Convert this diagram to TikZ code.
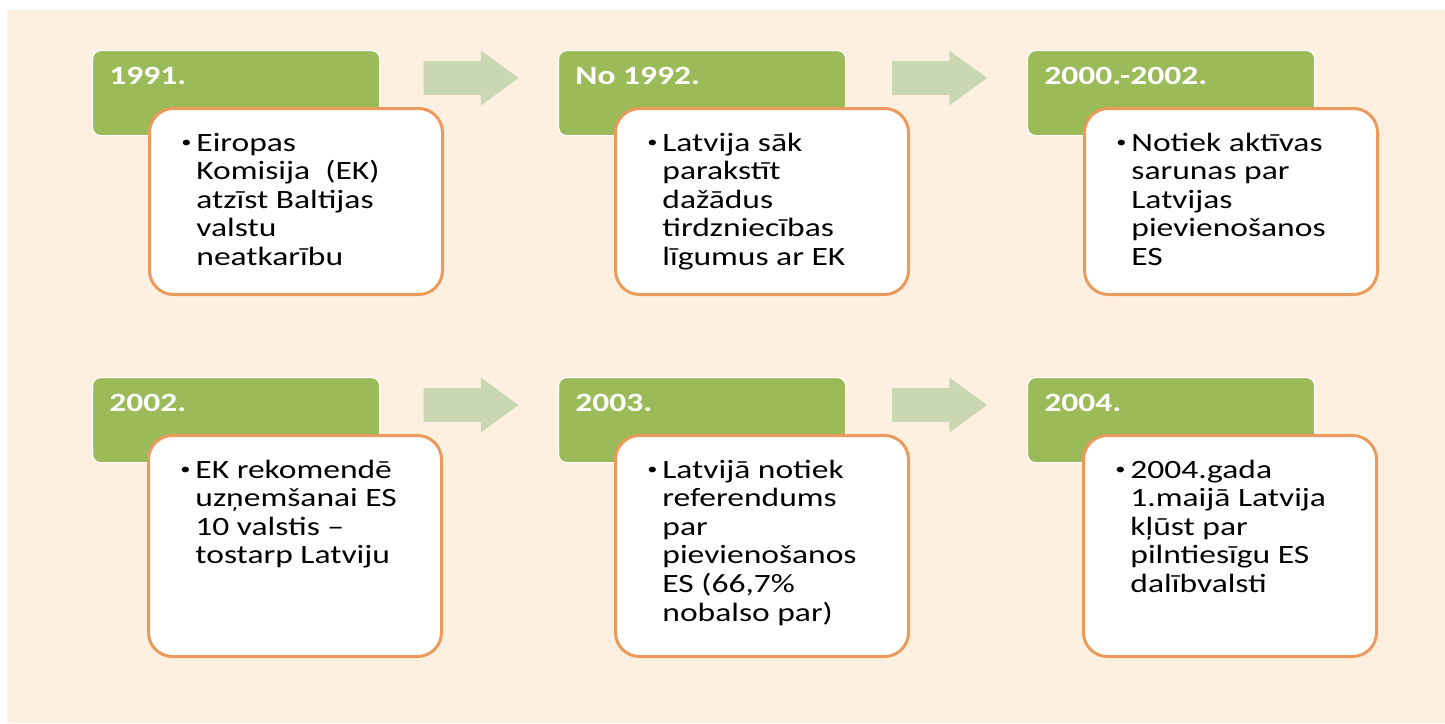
\documentclass[tikz,border=0pt]{standalone}
\usepackage{fontspec}
\setmainfont{Carlito}[FakeStretch=1.27]
\usetikzlibrary{shapes.arrows}
\definecolor{cream}{HTML}{FDF0E1}
\definecolor{yeargreen}{HTML}{9BBB59}
\definecolor{arrowgreen}{HTML}{C9D8B2}
\definecolor{noteorange}{HTML}{EC9A5B}
\newcommand{\bl}{\makebox[7.5pt][l]{\raisebox{2pt}{\fontsize{8}{8}\selectfont\textbullet}}}
\newcommand{\ind}{\hspace*{7.5pt}}

\begin{document}
\begin{tikzpicture}[x=0.5pt, y=-0.5pt,
	yearbox/.style={draw=white, line width=0.6pt, fill=yeargreen, rounded corners=4pt, minimum width=143.5pt, minimum height=42.5pt, anchor=north west, inner sep=0pt},
	notebox/.style={draw=noteorange, line width=1.5pt, fill=white, rounded corners=12pt, minimum width=146.5pt, anchor=north west, inner sep=0pt},
	yeartext/.style={anchor=base west, inner sep=0pt, text=white, font=\fontsize{13.2}{14.3}\selectfont\bfseries},
	% base west = baseline of the last line
	notetext/.style={anchor=base west, inner sep=0pt, align=left, font=\fontsize{13.2}{14.3}\selectfont},
	blockarrow/.style={single arrow, fill=arrowgreen, minimum width=27pt, minimum height=47.5pt, single arrow head extend=5.25pt, single arrow tip angle=72, inner xsep=0pt, inner ysep=8.25pt}]
	\useasboundingbox (0,0) rectangle (1445,723);
	\fill[white] (0,0) rectangle (1445,723);
	\fill[cream] (7,10) rectangle (1445,723);

	% top row
	\node[yearbox] (g1) at (92,50) {};
	\node[yearbox] (g2) at (558,50) {};
	\node[yearbox] (g3) at (1027,50) {};
	\node[notebox, minimum height=93pt] (w1) at (148,107) {};
	\node[notebox, minimum height=93pt] (w2) at (614,107) {};
	\node[notebox, minimum height=93pt] (w3) at (1083,107) {};
	\node[blockarrow] (a1) at (459.5,78) {};
	\node[blockarrow] (a2) at (928,78) {};
	\node[yeartext] (y1) at (109,84) {1991.};
	\node[yeartext] (y2) at (575,84) {No 1992.};
	\node[yeartext] (y3) at (1044,84) {2000.-2002.};
	\node[notetext] (t1) at (181,265.4) {\bl Eiropas\\\ind Komisija\ \ (EK)\\\ind atzīst Baltijas\\\ind valstu\\\ind neatkarību};
	\node[notetext] (t2) at (647,265.4) {\bl Latvija sāk\\\ind parakstīt\\\ind dažādus\\\ind tirdzniecības\\\ind līgumus ar EK};
	\node[notetext] (t3) at (1116,265.4) {\bl Notiek aktīvas\\\ind sarunas par\\\ind Latvijas\\\ind pievienošanos\\\ind ES};

	% bottom row
	\node[yearbox] (g4) at (92,377) {};
	\node[yearbox] (g5) at (558,377) {};
	\node[yearbox] (g6) at (1027,377) {};
	\node[notebox, minimum height=110.5pt] (w4) at (147,434) {};
	\node[notebox, minimum height=110.5pt] (w5) at (614,434) {};
	\node[notebox, minimum height=110.5pt] (w6) at (1082,434) {};
	\node[blockarrow] (a3) at (459.5,405) {};
	\node[blockarrow] (a4) at (928,405) {};
	\node[yeartext] (y4) at (109,411) {2002.};
	\node[yeartext] (y5) at (575,411) {2003.};
	\node[yeartext] (y6) at (1044,411) {2004.};
	\node[notetext] (t4) at (180,563.8) {\bl EK rekomendē\\\ind uzņemšanai ES\\\ind 10 valstis –\\\ind tostarp Latviju};
	\node[notetext] (t5) at (647,621) {\bl Latvijā notiek\\\ind referendums\\\ind par\\\ind pievienošanos\\\ind ES (66,7\%\\\ind nobalso par)};
	\node[notetext] (t6) at (1115,592.4) {\bl 2004.gada\\\ind 1.maijā Latvija\\\ind kļūst par\\\ind pilntiesīgu ES\\\ind dalībvalsti};
\end{tikzpicture}
\end{document}
